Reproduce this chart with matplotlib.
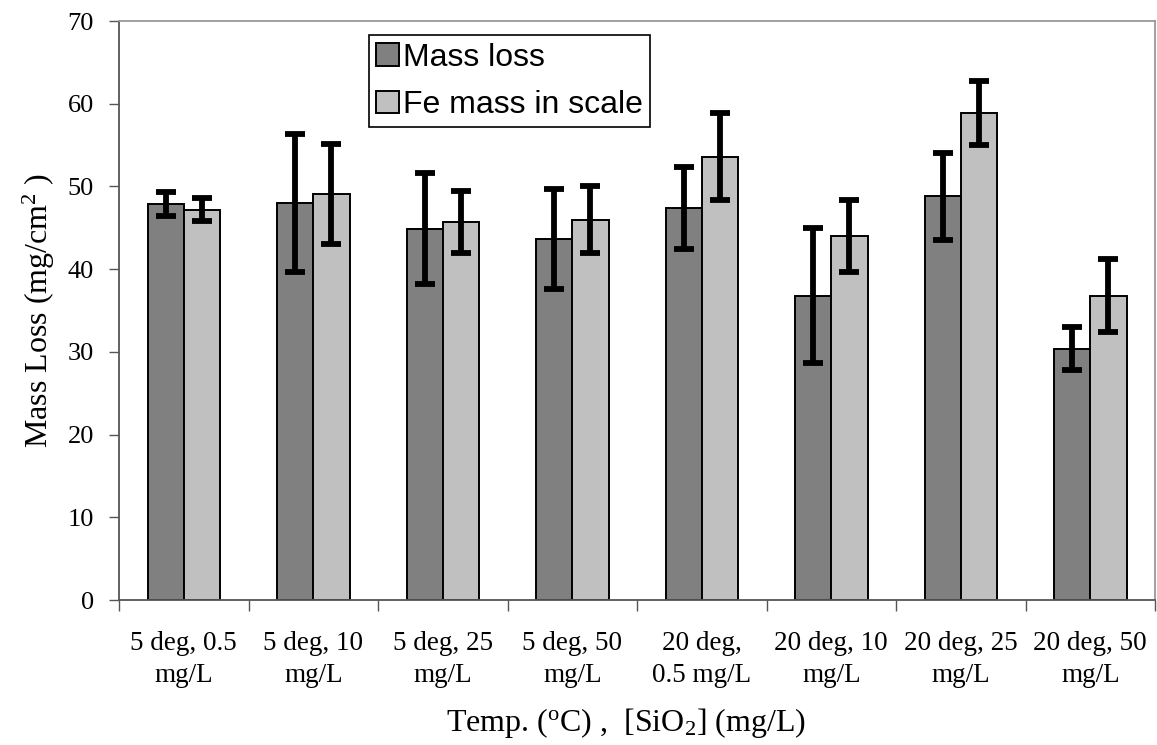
import matplotlib
matplotlib.use("Agg")
import matplotlib.pyplot as plt
import numpy as np

categories = ['5 deg, 0.5\nmg/L', '5 deg, 10\nmg/L', '5 deg, 25\nmg/L', '5 deg, 50\nmg/L',
              '20 deg,\n0.5 mg/L', '20 deg, 10\nmg/L', '20 deg, 25\nmg/L', '20 deg, 50\nmg/L']
mass_loss = [47.9, 48.0, 44.9, 43.7, 47.4, 36.8, 48.8, 30.4]
mass_loss_err = [1.45, 8.35, 6.7, 6.05, 5.0, 8.2, 5.25, 2.65]
fe_mass = [47.2, 49.1, 45.7, 46.0, 53.6, 44.0, 58.9, 36.8]
fe_mass_err = [1.4, 6.05, 3.75, 4.05, 5.25, 4.4, 3.9, 4.4]
yticks = [0, 10, 20, 30, 40, 50, 60, 70]

serif = ['Liberation Serif', 'DejaVu Serif']
sans = ['Liberation Sans', 'DejaVu Sans']
plt.rcParams['font.family'] = serif

fig = plt.figure(figsize=(11.57, 7.45), dpi=100)
ax = fig.add_axes([0.1029, 0.1946, 0.8954, 0.7772])

x = np.arange(len(categories))
w = 0.28
err_kw = dict(elinewidth=4.2, capsize=7, capthick=4.2, ecolor='black')
ax.bar(x - w/2, mass_loss, w, yerr=mass_loss_err, color='#808080', edgecolor='black',
       linewidth=1.4, error_kw=err_kw, label='Mass loss', zorder=2)
ax.bar(x + w/2, fe_mass, w, yerr=fe_mass_err, color='#c0c0c0', edgecolor='black',
       linewidth=1.4, error_kw=err_kw, label='Fe mass in scale', zorder=2)

ax.set_xlim(-0.5, len(categories) - 0.5)
ax.set_ylim(0, 70)
ax.set_yticks(yticks)
ax.set_yticklabels([str(t) for t in yticks], fontsize=19)
ax.tick_params(axis='y', direction='out', length=7, width=1, color='#555555', pad=11)

ax.set_xticks(np.arange(-0.5, len(categories) + 0.5, 1.0))
ax.set_xticklabels([])
ax.set_xticks(x, minor=True)
ax.set_xticklabels(categories, minor=True, fontsize=19.5, linespacing=1.4)
ax.tick_params(axis='x', which='major', direction='out', length=8, width=1, color='#555555')
ax.tick_params(axis='x', which='minor', length=0, pad=22)

for s in ['left', 'bottom']:
    ax.spines[s].set_color('#555555')
    ax.spines[s].set_linewidth(1.3)
for s in ['top', 'right']:
    ax.spines[s].set_color('#999999')
    ax.spines[s].set_linewidth(1.3)

ax.set_ylabel(r'Mass Loss (mg/cm$\mathregular{^2}$ )', fontsize=23, labelpad=8)
ax.set_xlabel(r'Temp. ($\mathregular{^o}$C) ,  [SiO$\mathregular{_2}$] (mg/L)', fontsize=23)
ax.xaxis.set_label_coords(0.4895, -0.183)

leg = ax.legend(loc='upper left', bbox_to_anchor=(0.2415, 0.975), prop={'family': sans, 'size': 23},
                frameon=True, fancybox=False, framealpha=1, edgecolor='black',
                handlelength=0.7, handleheight=0.7, handletextpad=0.15, borderpad=0.22,
                labelspacing=0.55, borderaxespad=0)
leg.get_frame().set_linewidth(1.2)

fig.savefig('out.png', dpi=100)
